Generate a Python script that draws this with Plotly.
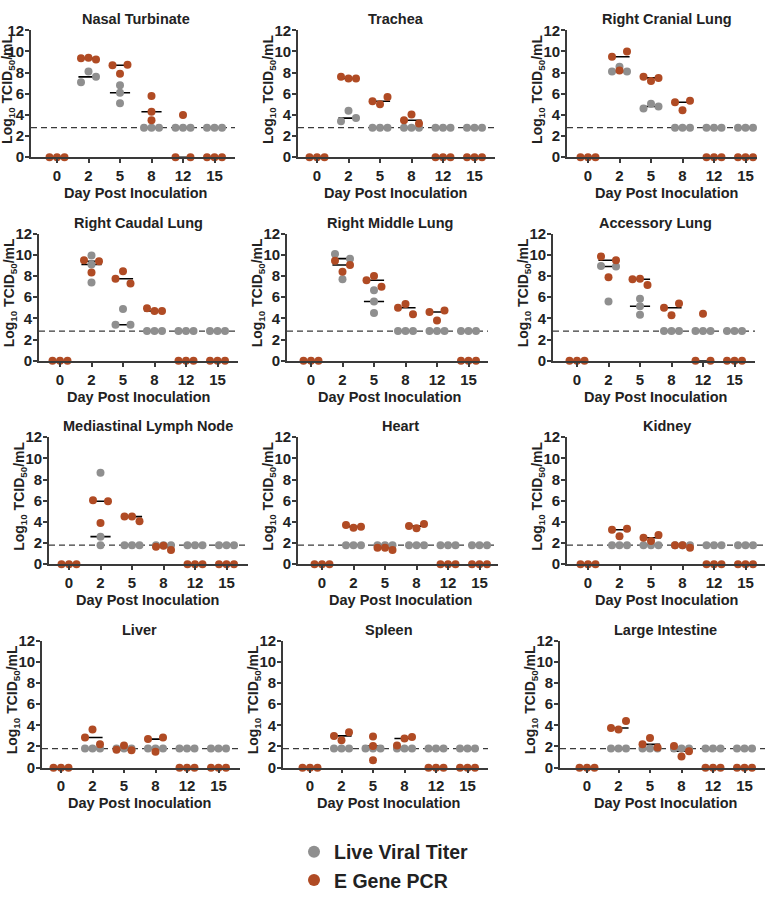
import numpy as np
import plotly.graph_objects as go

days = ["0", "2", "5", "8", "12", "15"]
tissues = ["Nasal Turbinate", "Trachea", "Right Cranial Lung",
           "Right Caudal Lung", "Right Middle Lung", "Accessory Lung",
           "Mediastinal Lymph Node", "Heart", "Kidney",
           "Liver", "Spleen", "Large Intestine"]
lod = [2.8, 2.8, 2.8, 2.8, 2.8, 2.8, 1.8, 1.8, 1.8, 1.8, 1.8, 1.8]

# values per day (0, 2, 5, 8, 12, 15); titer = grey, pcr = orange
nasal_titer = [[], [7.1, 8.1, 7.6], [6.8, 6.1, 5.1], [2.8, 2.8, 2.8], [2.8, 2.8, 2.8], [2.8, 2.8, 2.8]]
nasal_pcr = [[0, 0, 0], [9.35, 9.4, 9.25], [8.7, 7.9, 8.75], [5.8, 4.3, 3.5], [0, 4.0, 0], [0, 0, 0]]
trachea_titer = [[], [4.4, 3.4, 3.7], [2.8, 2.8, 2.8], [2.8, 2.8, 2.8], [2.8, 2.8, 2.8], [2.8, 2.8, 2.8]]
trachea_pcr = [[0, 0, 0], [7.6, 7.45, 7.45], [5.3, 5.0, 5.7], [3.5, 4.05, 3.2], [0, 0, 0], [0, 0, 0]]
rcranial_titer = [[], [8.1, 8.55, 8.1], [4.6, 5.05, 4.8], [2.8, 2.8, 2.8], [2.8, 2.8, 2.8], [2.8, 2.8, 2.8]]
rcranial_pcr = [[0, 0, 0], [9.5, 10.0, 8.2], [7.6, 7.2, 7.5], [5.2, 5.35, 4.45], [0, 0, 0], [0, 0, 0]]
rcaudal_titer = [[], [9.95, 9.1, 7.4], [4.9, 3.4, 3.4], [2.8, 2.8, 2.8], [2.8, 2.8, 2.8], [2.8, 2.8, 2.8]]
rcaudal_pcr = [[0, 0, 0], [9.5, 9.4, 8.35], [8.45, 7.75, 7.3], [4.95, 4.7, 4.7], [0, 0, 0], [0, 0, 0]]
rmiddle_titer = [[], [10.1, 9.65, 7.7], [6.65, 5.6, 4.5], [2.8, 2.8, 2.8], [2.8, 2.8, 2.8], [2.8, 2.8, 2.8]]
rmiddle_pcr = [[0, 0, 0], [9.45, 8.4, 9.05], [7.6, 8.0, 7.0], [5.0, 5.35, 4.4], [4.6, 4.75, 3.8], [0, 0, 0]]
accessory_titer = [[], [8.95, 8.9, 5.6], [5.85, 5.15, 4.35], [2.8, 2.8, 2.8], [2.8, 2.8, 2.8], [2.8, 2.8, 2.8]]
accessory_pcr = [[0, 0, 0], [9.85, 9.5, 7.9], [7.7, 7.75, 7.15], [5.0, 5.4, 4.3], [4.45, 0, 0], [0, 0, 0]]
mediastinal_titer = [[], [8.65, 2.6, 1.8], [1.8, 1.8, 1.8], [1.8, 1.8, 1.8], [1.8, 1.8, 1.8], [1.8, 1.8, 1.8]]
mediastinal_pcr = [[0, 0, 0], [6.05, 5.95, 3.9], [4.5, 4.5, 4.05], [1.65, 1.75, 1.35], [0, 0, 0], [0, 0, 0]]
heart_titer = [[], [1.8, 1.8, 1.8], [1.8, 1.8, 1.8], [1.8, 1.8, 1.8], [1.8, 1.8, 1.8], [1.8, 1.8, 1.8]]
heart_pcr = [[0, 0, 0], [3.7, 3.45, 3.55], [1.55, 1.55, 1.35], [3.6, 3.4, 3.8], [0, 0, 0], [0, 0, 0]]
kidney_titer = [[], [1.8, 1.8, 1.8], [1.8, 1.8, 1.8], [1.8, 1.8, 1.8], [1.8, 1.8, 1.8], [1.8, 1.8, 1.8]]
kidney_pcr = [[0, 0, 0], [3.25, 2.65, 3.35], [2.5, 2.2, 2.75], [1.8, 1.8, 1.55], [0, 0, 0], [0, 0, 0]]
liver_titer = [[], [1.8, 1.8, 1.8], [1.8, 1.8, 1.8], [1.8, 1.8, 1.8], [1.8, 1.8, 1.8], [1.8, 1.8, 1.8]]
liver_pcr = [[0, 0, 0], [3.6, 2.85, 2.2], [1.7, 2.1, 1.65], [2.7, 2.85, 1.5], [0, 0, 0], [0, 0, 0]]
spleen_titer = [[], [1.8, 1.8, 1.8], [1.8, 1.8, 1.8], [1.8, 1.8, 1.8], [1.8, 1.8, 1.8], [1.8, 1.8, 1.8]]
spleen_pcr = [[0, 0, 0], [3.0, 2.6, 3.35], [2.05, 2.95, 0.7], [2.1, 2.75, 2.9], [0, 0, 0], [0, 0, 0]]
intestine_titer = [[], [1.8, 1.8, 1.8], [1.8, 1.8, 1.8], [1.8, 1.8, 1.8], [1.8, 1.8, 1.8], [1.8, 1.8, 1.8]]
intestine_pcr = [[0, 0, 0], [3.75, 3.6, 4.4], [2.2, 2.8, 1.9], [2.05, 1.05, 1.55], [0, 0, 0], [0, 0, 0]]

titers = [nasal_titer, trachea_titer, rcranial_titer, rcaudal_titer, rmiddle_titer, accessory_titer,
          mediastinal_titer, heart_titer, kidney_titer, liver_titer, spleen_titer, intestine_titer]
pcrs = [nasal_pcr, trachea_pcr, rcranial_pcr, rcaudal_pcr, rmiddle_pcr, accessory_pcr,
        mediastinal_pcr, heart_pcr, kidney_pcr, liver_pcr, spleen_pcr, intestine_pcr]

GREY = "#8f8f8f"
ORANGE = "#b04b24"
AXIS = "#3a3a3a"
FONT = "Liberation Sans, Arial, sans-serif"

W, H = 767, 900
# panel geometry in pixels (the source figure is a slightly uneven composite)
axis_px = [31, 298, 567, 39, 287, 553, 49, 298, 567, 42, 283, 560]
tick0_px = [57, 317, 588, 60, 311, 577, 69, 322, 588, 61, 310, 587]
end_px = [235, 495, 757, 238, 488, 755, 248, 498, 765, 240, 488, 765]
tops = [22, 232, 442, 652]
ph = 131
ppx = 31.5
ppy = ph / 12.0


def swarm(vals, step=7.5, gap=7.5):
    # GraphPad-like scatter: dots that sit too close vertically are spread sideways
    offs = [0.0] * len(vals)
    order = sorted(range(len(vals)), key=lambda k: -vals[k])
    clusters, cur = [], []
    for i in order:
        if cur and (vals[cur[-1]] - vals[i]) * ppy >= gap:
            clusters.append(cur)
            cur = []
        cur.append(i)
    if cur:
        clusters.append(cur)
    for c in clusters:
        c = sorted(c)
        n = len(c)
        slots = [-1, 1] if n == 2 else [j - (n - 1) / 2 for j in range(n)]
        for i, s in zip(c, slots):
            offs[i] = s * step / ppx
    return offs


fig = go.Figure()
annotations = []
shapes = []
txt = dict(family=FONT, size=14.5, color="#222")

for p in range(12):
    sfx = "" if p == 0 else str(p + 1)
    xa, ya = "x" + sfx, "y" + sfx
    row = p // 3
    x0 = axis_px[p] / W
    x1 = end_px[p] / W
    y1 = 1 - tops[row] / H
    y0 = 1 - (tops[row] + ph) / H
    xr = [-(tick0_px[p] - axis_px[p]) / ppx, (end_px[p] - tick0_px[p]) / ppx]

    gx, gy, ox, oy, mx, my = [], [], [], [], [], []
    for d in range(6):
        tv = titers[p][d]
        pv = pcrs[p][d]
        for v, o in zip(tv, swarm(tv)):
            gx.append(d + o)
            gy.append(v)
        for v, o in zip(pv, swarm(pv)):
            ox.append(d + o)
            oy.append(v)
        for vals in (tv, pv):
            if vals:
                m = float(np.median(vals))
                mx += [d - 0.32, d + 0.32, None]
                my += [m, m, None]

    fig.add_trace(go.Scatter(x=mx, y=my, mode="lines", xaxis=xa, yaxis=ya,
                             line=dict(color="black", width=1.6), showlegend=False,
                             hoverinfo="skip", cliponaxis=False))
    fig.add_trace(go.Scatter(x=gx, y=gy, mode="markers", xaxis=xa, yaxis=ya,
                             marker=dict(color=GREY, size=8), showlegend=False,
                             cliponaxis=False))
    fig.add_trace(go.Scatter(x=ox, y=oy, mode="markers", xaxis=xa, yaxis=ya,
                             marker=dict(color=ORANGE, size=8), showlegend=False,
                             cliponaxis=False))

    axis_style = dict(showgrid=False, zeroline=False, showline=True, linecolor=AXIS,
                      linewidth=1.6, ticks="outside", ticklen=4, tickwidth=1.6,
                      tickcolor=AXIS, tickfont=dict(family=FONT, size=15, color="#222",
                                                    weight="bold"))
    fig.layout["xaxis" + sfx] = dict(domain=[x0, x1], anchor=ya, range=xr,
                                     tickvals=list(range(6)), ticktext=days, **axis_style)
    fig.layout["yaxis" + sfx] = dict(domain=[y0, y1], anchor=xa, range=[0, 12],
                                     tickvals=list(range(0, 13, 2)),
                                     ticklabelstandoff=-2, **axis_style)

    shapes.append(dict(type="line", xref=xa + " domain", yref=ya, x0=0, x1=1,
                       y0=lod[p], y1=lod[p], layer="below",
                       line=dict(color=AXIS, width=1.4, dash="6px,4px")))

    xc = (tick0_px[p] + 2.5 * ppx) / W
    annotations.append(dict(text=f"<b>{tissues[p]}</b>", xref="paper", yref="paper",
                            x=xc, y=1 - (tops[row] - 11.5) / H, showarrow=False,
                            xanchor="center", yanchor="middle", font=txt))
    annotations.append(dict(text="<b>Day Post Inoculation</b>", xref="paper", yref="paper",
                            x=xc, y=1 - (tops[row] + ph + 37) / H, showarrow=False,
                            xanchor="center", yanchor="middle", font=txt))
    annotations.append(dict(text="<b>Log<sub>10</sub> TCID<sub>50</sub>/mL</b>",
                            xref="paper", yref="paper", textangle=-90,
                            x=max(axis_px[p] - 29, 8) / W, y=1 - (tops[row] + ph / 2 - 4) / H,
                            showarrow=False, xanchor="center", yanchor="middle",
                            font=dict(family=FONT, size=14, color="#222")))

# legend entries
fig.add_trace(go.Scatter(x=[None], y=[None], mode="markers", name="Live Viral Titer",
                         marker=dict(color=GREY, size=12)))
fig.add_trace(go.Scatter(x=[None], y=[None], mode="markers", name="E Gene PCR",
                         marker=dict(color=ORANGE, size=12)))

fig.update_layout(
    width=W, height=H,
    margin=dict(l=0, r=0, t=0, b=0),
    paper_bgcolor="white", plot_bgcolor="white",
    annotations=annotations, shapes=shapes,
    showlegend=True,
    legend=dict(x=294 / W, y=1 - 850 / H, xanchor="left", yanchor="top",
                font=dict(family=FONT, size=19.5, color="#222", weight="bold"),
                bgcolor="rgba(0,0,0,0)", itemsizing="trace"),
)

# drop the browser's default 8px body margin so the figure sits at the page origin
fig.write_html("out.html", config={"displayModeBar": False},
               post_script="document.body.style.margin='0px';")
